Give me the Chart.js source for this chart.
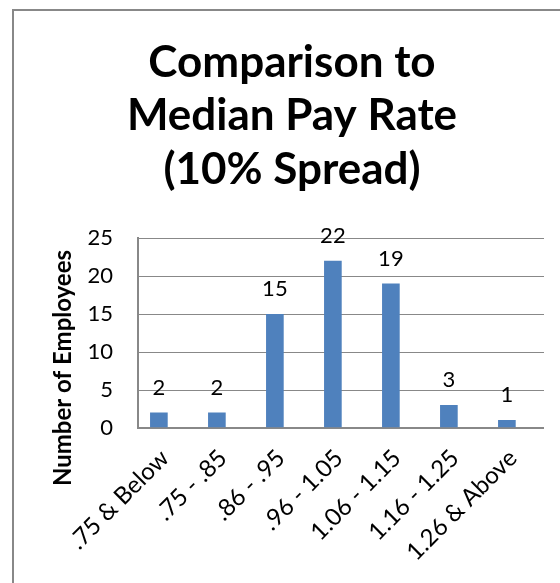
<!DOCTYPE html>
<html>
<head>
<meta charset="utf-8">
<script src="https://cdn.jsdelivr.net/npm/chart.js@4"></script>
<style>
  html, body { margin: 0; padding: 0; background: #fff; overflow: hidden; }
  #wrap { position: relative; width: 560px; height: 583px; }
  #frame {
    position: absolute; left: 12px; top: 9px; width: 620px; height: 620px;
    border-left: 2px solid #888; border-top: 2px solid #888;
  }
  canvas { position: absolute; left: 0; top: 0; }
</style>
</head>
<body>
<div id="wrap">
  <div id="frame"></div>
  <canvas id="chart" width="560" height="583"></canvas>
</div>
<script>
const categories = ['.75 & Below', '.75 - .85', '.86 - .95', '.96 - 1.05', '1.06 - 1.15', '1.16 - 1.25', '1.26 & Above'];
const employees = [2, 2, 15, 22, 19, 3, 1];
const titleLines = ['Comparison to', 'Median Pay Rate', '(10% Spread)'];
const yTitle = 'Number of Employees';

const FONT = 'Lato, "Open Sans", sans-serif';

// value above each bar, like Excel's "outside end" labels
const barLabels = {
  id: 'barLabels',
  afterDatasetsDraw: chart => {
    const ctx = chart.ctx;
    const meta = chart.getDatasetMeta(0);
    ctx.save();
    ctx.font = `22px ${FONT}`;
    ctx.fillStyle = '#000';
    ctx.textAlign = 'center';
    ctx.textBaseline = 'alphabetic';
    meta.data.forEach((bar, i) => {
      ctx.fillText(String(employees[i]), bar.x, bar.y - 18);
    });
    ctx.restore();
  },
};

// rotated axis title, centred on the axis plus its labels
const yAxisTitle = {
  id: 'yAxisTitle',
  afterDraw: chart => {
    const { ctx, chartArea } = chart;
    ctx.save();
    ctx.translate(chartArea.left - 75, chartArea.bottom - 60);
    ctx.rotate(-Math.PI / 2);
    ctx.font = `bold 24px ${FONT}`;
    ctx.fillStyle = '#000';
    ctx.textAlign = 'center';
    ctx.textBaseline = 'middle';
    ctx.fillText(yTitle, 0, 0);
    ctx.restore();
  },
};

new Chart(document.getElementById('chart'), {
  type: 'bar',
  data: {
    datasets: [{
      data: employees.map((v, i) => ({ x: i, y: v })),
      backgroundColor: '#4F81BD',
      borderWidth: 0,
      barThickness: 17,
    }],
  },
  options: {
    responsive: false,
    devicePixelRatio: 1,
    animation: false,
    layout: { padding: { left: 40, right: 16, top: 0, bottom: 0 } },
    scales: {
      x: {
        type: 'linear',
        offset: false,
        min: -0.36,
        max: 6.64,
        afterBuildTicks: scale => {
          scale.ticks = categories.map((c, i) => ({ value: i }));
        },
        afterFit: scale => { scale.height = 155; },
        grid: { display: false },
        border: { display: false },
        ticks: {
          minRotation: 45,
          maxRotation: 45,
          padding: 8,
          labelOffset: 6,
          color: '#000',
          font: { family: FONT, size: 24 },
          callback: v => categories[v],
        },
      },
      y: {
        min: 0,
        max: 25,
        afterFit: scale => { scale.width = 98; },
        grid: {
          color: '#888',
          lineWidth: c => (c.tick && c.tick.value === 0 ? 2 : 1),
          drawTicks: false,
        },
        border: { color: '#888', width: 2 },
        ticks: {
          stepSize: 5,
          padding: 25,
          color: '#000',
          font: { family: FONT, size: 22 },
        },
      },
    },
    plugins: {
      legend: { display: false },
      tooltip: { enabled: false },
      title: {
        display: true,
        text: titleLines,
        color: '#000',
        font: { family: FONT, size: 44, weight: 'bold', lineHeight: 1.215 },
        padding: { top: 36, bottom: 42 },
      },
    },
  },
  plugins: [barLabels, yAxisTitle],
});
</script>
</body>
</html>
